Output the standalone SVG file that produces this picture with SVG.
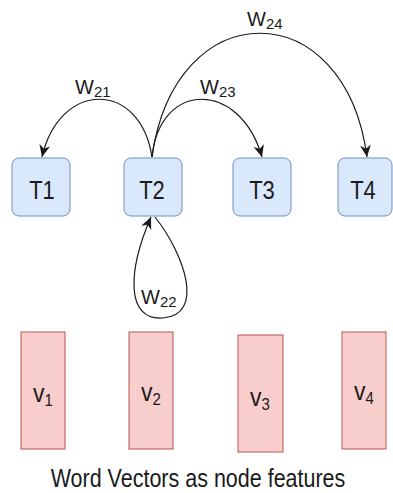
<svg xmlns="http://www.w3.org/2000/svg" width="393" height="493" viewBox="0 0 393 493">
<defs>
<style>
.t{fill:#dae8fc;stroke:#6c8ebf;stroke-width:1}
.v{fill:#f8cecc;stroke:#b85450;stroke-width:1}
text{font-family:"Liberation Sans",Arial,sans-serif;fill:#1a1a1a}
.tl{font-size:22px;text-anchor:middle}
.vl{font-size:23px;text-anchor:middle}
.wl{font-size:20px}
.sub{font-size:15px}
.cap{font-size:21.5px;text-anchor:middle}
.e{fill:none;stroke:#1a1a1a;stroke-width:1.2}
</style>
<marker id="ah" markerUnits="userSpaceOnUse" markerWidth="12" markerHeight="12" viewBox="0 0 10 10" refX="10" refY="5" orient="auto">
<path d="M0,0.5 L10,5 L0,9.5 L3,5 Z" fill="#1a1a1a"/>
</marker>
</defs>
<g id="connectors">
<path class="e" d="M152,157 C140,80 60,80 42,157" marker-end="url(#ah)"/>
<path class="e" d="M152,157 C160,80 240,80 262,157" marker-end="url(#ah)"/>
<path class="e" d="M152,157 C175,-8 345,-8 367,157" marker-end="url(#ah)"/>
<path class="e" d="M155,217 C185,255 205,315 163,318 C125,321 128,270 151,217" marker-end="url(#ah)"/>
<text class="wl" x="75" y="94">W<tspan class="sub" dy="3">21</tspan></text>
<text class="wl" x="200" y="94">W<tspan class="sub" dy="3">23</tspan></text>
<text class="wl" x="247" y="26">W<tspan class="sub" dy="3">24</tspan></text>
<text class="wl" x="141" y="304">W<tspan class="sub" dy="3">22</tspan></text>
</g>
<g id="T1"><rect class="t" x="12" y="158" width="58" height="58" rx="7"/><text class="tl" transform="translate(42,199) scale(1,1.18)">T1</text></g>
<g id="T2"><rect class="t" x="124" y="158" width="58" height="58" rx="7"/><text class="tl" transform="translate(152,199) scale(1,1.18)">T2</text></g>
<g id="T3"><rect class="t" x="233" y="158" width="58" height="58" rx="7"/><text class="tl" transform="translate(262,199) scale(1,1.18)">T3</text></g>
<g id="T4"><rect class="t" x="338" y="158" width="54" height="58" rx="7"/><text class="tl" transform="translate(363,199) scale(1,1.18)">T4</text></g>
<g id="v1"><rect class="v" x="21" y="332" width="44" height="117"/><text class="vl" transform="translate(43,402) scale(1,1.1)">v<tspan class="sub" font-size="17" dy="4">1</tspan></text></g>
<g id="v2"><rect class="v" x="129" y="332" width="44" height="117"/><text class="vl" transform="translate(151,401) scale(1,1.1)">v<tspan class="sub" font-size="17" dy="4">2</tspan></text></g>
<g id="v3"><rect class="v" x="238" y="335" width="45" height="117"/><text class="vl" transform="translate(260,406) scale(1,1.1)">v<tspan class="sub" font-size="17" dy="4">3</tspan></text></g>
<g id="v4"><rect class="v" x="342" y="332" width="44" height="117"/><text class="vl" transform="translate(364,400) scale(1,1.1)">v<tspan class="sub" font-size="17" dy="4">4</tspan></text></g>
<g id="caption"><text class="cap" transform="translate(198,487) scale(1,1.2)">Word Vectors as node features</text></g>
</svg>
